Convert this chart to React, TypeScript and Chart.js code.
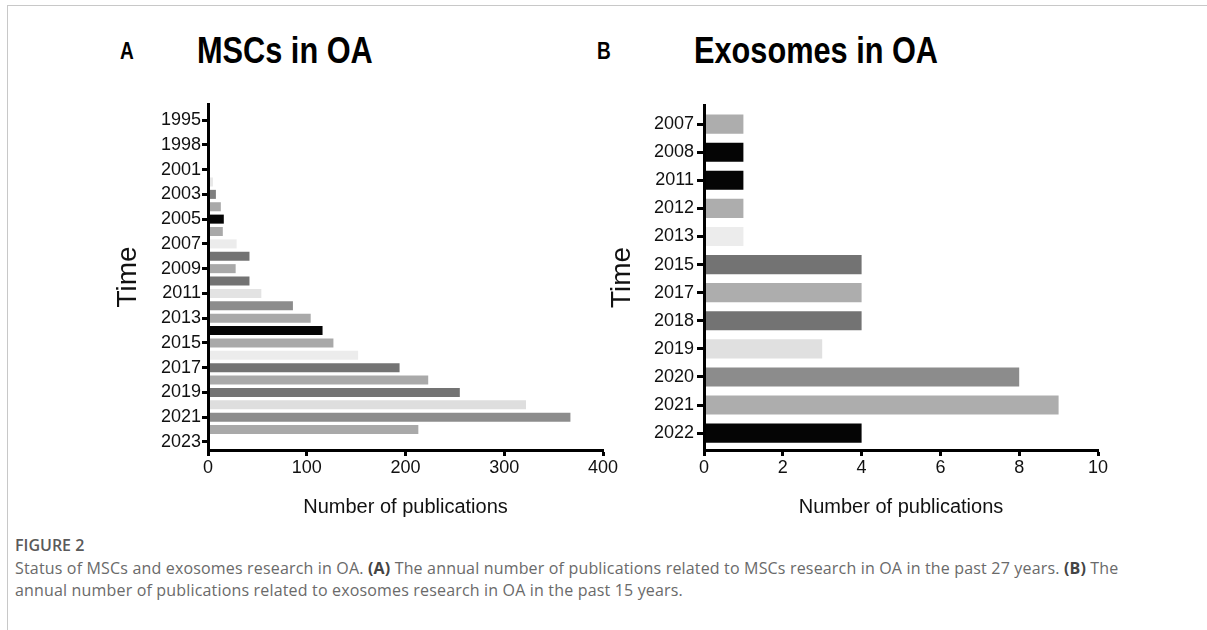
import React, { useEffect, useRef } from "react";
import { Chart, registerables } from "chart.js";

Chart.register(...registerables);

// ---- Panel A: MSCs in OA ----
const mscYears = [
  "1995", "1997", "1998", "2000", "2001", "2002", "2003", "2004", "2005", "2006",
  "2007", "2008", "2009", "2010", "2011", "2012", "2013", "2014", "2015", "2016",
  "2017", "2018", "2019", "2020", "2021", "2022", "2023",
];
const mscCounts = [
  1, 1, 1, 1, 1, 5, 8, 13, 16, 15,
  29, 42, 28, 42, 54, 86, 104, 116, 127, 152,
  194, 223, 255, 322, 367, 213, 0,
];
const mscColors = [
  "#ececec", "#ececec", "#ececec", "#ececec", "#ececec", "#e8e8e8", "#7f7f7f", "#a9a9a9", "#050505", "#a9a9a9",
  "#ececec", "#737373", "#a9a9a9", "#737373", "#e3e3e3", "#8c8c8c", "#a9a9a9", "#050505", "#a9a9a9", "#ececec",
  "#737373", "#a9a9a9", "#737373", "#dedede", "#8c8c8c", "#a9a9a9", "#ececec",
];
const mscXTicks = [0, 100, 200, 300, 400];

// ---- Panel B: Exosomes in OA ----
const exoYears = ["2007", "2008", "2011", "2012", "2013", "2015", "2017", "2018", "2019", "2020", "2021", "2022"];
const exoCounts = [1, 1, 1, 1, 1, 4, 4, 4, 3, 8, 9, 4];
const exoColors = [
  "#adadad", "#050505", "#050505", "#adadad", "#ececec", "#737373",
  "#adadad", "#737373", "#e0e0e0", "#8c8c8c", "#adadad", "#050505",
];
const exoXTicks = [0, 2, 4, 6, 8, 10];

const FONT = "'Liberation Sans', Arial, Helvetica, sans-serif";

type PanelProps = {
  years: string[];
  counts: number[];
  colors: string[];
  xTicks: number[];
  labelEvery: number;
  yMin: number;
  yMax: number;
  barPct: number;
  left: number;
  top: number;
  width: number;
  height: number;
  yAxisWidth: number;
  padTop: number;
  padRight: number;
  yTickLen: number;
  yTickPad: number;
  yTitlePad: number;
};

function Panel(p: PanelProps) {
  const ref = useRef<HTMLCanvasElement | null>(null);
  useEffect(() => {
    if (!ref.current) return;
    const axisGrid = (len: number) => ({
      drawOnChartArea: false,
      drawTicks: true,
      offset: false,
      tickLength: len,
      tickWidth: 3,
      tickColor: "#000",
      color: "#000",
    });
    const chart = new Chart(ref.current, {
      type: "bar",
      data: {
        datasets: [
          {
            data: p.counts.map((v, i) => ({ x: v, y: i })),
            backgroundColor: p.colors,
            borderWidth: 0,
            barPercentage: p.barPct,
            categoryPercentage: 1,
          } as any,
        ],
      },
      options: {
        indexAxis: "y",
        animation: false,
        responsive: false,
        events: [],
        layout: { padding: { top: p.padTop, right: p.padRight, left: 0, bottom: 0 } },
        plugins: { legend: { display: false }, tooltip: { enabled: false } },
        scales: {
          x: {
            type: "linear",
            offset: false,
            min: p.xTicks[0],
            max: p.xTicks[p.xTicks.length - 1],
            afterBuildTicks: (s: any) => {
              s.ticks = p.xTicks.map((v) => ({ value: v }));
            },
            ticks: { color: "#111", font: { family: FONT, size: 18 }, padding: 1, autoSkip: false, maxRotation: 0 },
            grid: axisGrid(6),
            border: { display: true, width: 3, color: "#000", z: 1 },
            title: {
              display: true,
              text: "Number of publications",
              color: "#111",
              font: { family: FONT, size: 20 },
              padding: { top: 0, bottom: 11 },
            },
            afterFit: (s: any) => {
              s.height = 80;
            },
          },
          y: {
            type: "linear",
            offset: false,
            reverse: true,
            min: p.yMin,
            max: p.yMax,
            afterBuildTicks: (s: any) => {
              s.ticks = p.years
                .map((_, i) => ({ value: i }))
                .filter((_, i) => i % p.labelEvery === 0);
            },
            ticks: {
              color: "#111",
              font: { family: FONT, size: 18 },
              padding: p.yTickPad,
              autoSkip: false,
              callback: (v: any) => p.years[v],
            },
            grid: axisGrid(p.yTickLen),
            border: { display: true, width: 3, color: "#000", z: 1 },
            title: {
              display: true,
              text: "Time",
              color: "#111",
              font: { family: FONT, size: 28 },
              padding: { top: p.yTitlePad, bottom: 0 },
            },
            afterFit: (s: any) => {
              s.width = p.yAxisWidth;
            },
          },
        },
      } as any,
    });
    return () => chart.destroy();
  }, []);
  return (
    <canvas
      ref={ref}
      width={p.width}
      height={p.height}
      style={{ position: "absolute", left: p.left, top: p.top, width: p.width, height: p.height }}
    />
  );
}

const titleStyle: React.CSSProperties = {
  position: "absolute",
  fontFamily: "'Liberation Sans', Arial, sans-serif",
  fontWeight: 700,
  color: "#000",
  whiteSpace: "nowrap",
  transform: "scaleX(0.83)",
  transformOrigin: "0 0",
};

const capStyle: React.CSSProperties = {
  position: "absolute",
  left: 15,
  fontFamily: "'Open Sans', 'Noto Sans', sans-serif",
  fontSize: 16,
  letterSpacing: "0.17px",
  lineHeight: "22px",
  color: "#6a6a6a",
  whiteSpace: "nowrap",
};

export default function App() {
  return (
    <div
      style={{
        position: "absolute",
        left: 0,
        top: 0,
        width: 1207,
        height: 630,
        overflow: "hidden",
        background: "#fff",
      }}
    >
      <div style={{ position: "absolute", left: 7, top: 5, width: 1200, height: 1, background: "#c8c8c8" }} />
      <div style={{ position: "absolute", left: 7, top: 5, width: 1, height: 625, background: "#c8c8c8" }} />

      <div style={{ ...titleStyle, left: 120, top: 40, fontSize: 23, lineHeight: "23px" }}>A</div>
      <div style={{ ...titleStyle, left: 197, top: 32, fontSize: 37, lineHeight: "37px" }}>MSCs in OA</div>
      <div style={{ ...titleStyle, left: 597, top: 40, fontSize: 23, lineHeight: "23px" }}>B</div>
      <div style={{ ...titleStyle, left: 694, top: 32, fontSize: 37, lineHeight: "37px" }}>Exosomes in OA</div>

      <Panel
        years={mscYears}
        counts={mscCounts}
        colors={mscColors}
        xTicks={mscXTicks}
        labelEvery={2}
        yMin={-1.3}
        yMax={26.65}
        barPct={0.73}
        left={90}
        top={90}
        width={530}
        height={440}
        yAxisWidth={118}
        padTop={14}
        padRight={17}
        yTickLen={6}
        yTickPad={1}
        yTitlePad={21}
      />
      <Panel
        years={exoYears}
        counts={exoCounts}
        colors={exoColors}
        xTicks={exoXTicks}
        labelEvery={1}
        yMin={-0.68}
        yMax={11.6}
        barPct={0.68}
        left={590}
        top={90}
        width={530}
        height={440}
        yAxisWidth={114}
        padTop={15}
        padRight={22}
        yTickLen={7}
        yTickPad={3}
        yTitlePad={15}
      />

      <div
        style={{
          ...capStyle,
          top: 534,
          fontSize: 16,
          letterSpacing: 0,
          fontWeight: 600,
          color: "#5a5a5a",
        }}
      >
        FIGURE 2
      </div>
      <div style={{ ...capStyle, top: 557 }}>
        Status of MSCs and exosomes research in OA. <b style={{ color: "#444" }}>(A)</b> The annual number of
        publications related to MSCs research in OA in the past 27 years. <b style={{ color: "#444" }}>(B)</b> The
      </div>
      <div style={{ ...capStyle, top: 579 }}>
        annual number of publications related to exosomes research in OA in the past 15 years.
      </div>
    </div>
  );
}
